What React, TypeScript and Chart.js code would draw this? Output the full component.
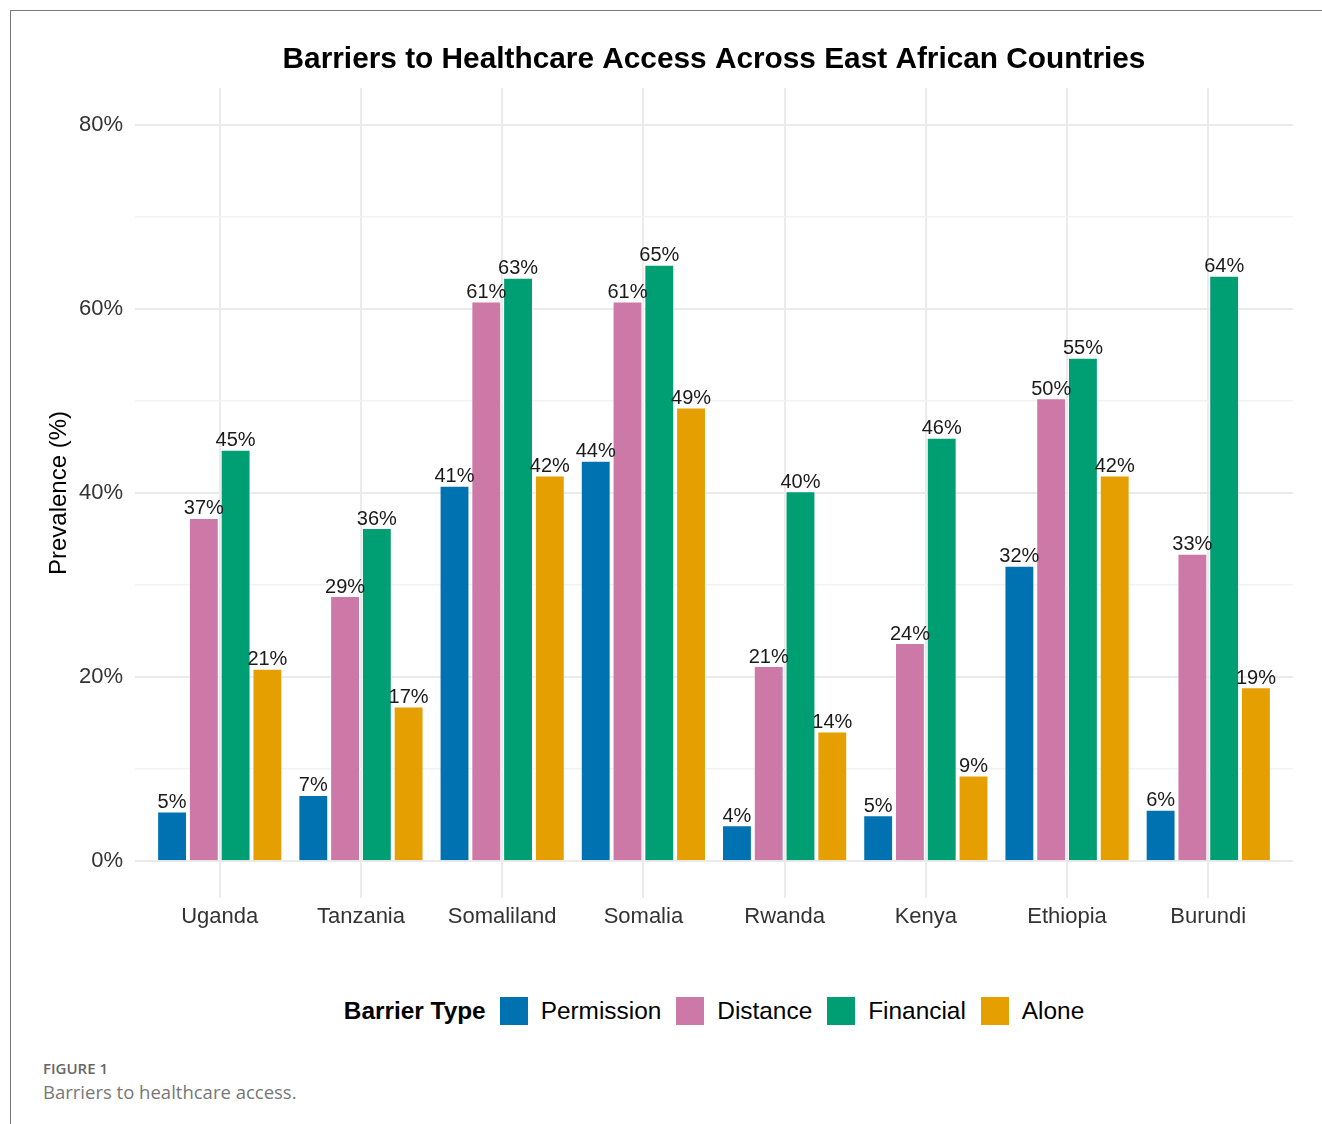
import React, { useEffect, useRef } from "react";
import { Chart, registerables } from "chart.js";

Chart.register(...registerables);

const countries = ["Uganda", "Tanzania", "Somaliland", "Somalia", "Rwanda", "Kenya", "Ethiopia", "Burundi"];
const permission = [5.4, 7.2, 40.8, 43.5, 3.9, 5.0, 32.1, 5.6];
const distance = [37.3, 28.8, 60.8, 60.8, 21.2, 23.7, 50.3, 33.4];
const financial = [44.7, 36.2, 63.4, 64.8, 40.2, 46.0, 54.7, 63.6];
const alone = [20.9, 16.8, 41.9, 49.3, 14.1, 9.3, 41.9, 18.9];
const seriesNames = ["Permission", "Distance", "Financial", "Alone"];
const seriesColors = ["#0072B2", "#CC79A7", "#009E73", "#E69F00"];
const yTickValues = [0, 10, 20, 30, 40, 50, 60, 70, 80];
const yMajorStep = 20;

const FONT = "'Liberation Sans', Arial, Helvetica, sans-serif";

const labelPlugin = {
  id: "barValueLabels",
  afterDatasetsDraw(chart: any) {
    const ctx = chart.ctx;
    ctx.save();
    ctx.font = `20px ${FONT}`;
    ctx.fillStyle = "#1a1a1a";
    ctx.textAlign = "center";
    ctx.textBaseline = "alphabetic";
    chart.data.datasets.forEach((ds: any, di: number) => {
      const meta = chart.getDatasetMeta(di);
      meta.data.forEach((el: any, i: number) => {
        const v = ds.data[i].y;
        ctx.fillText(Math.round(v) + "%", el.x, el.y - 3.5);
      });
    });
    ctx.restore();
  },
};

export default function App() {
  const canvasRef = useRef<HTMLCanvasElement | null>(null);

  useEffect(() => {
    if (!canvasRef.current) return;
    const seriesValues = [permission, distance, financial, alone];
    const chart = new Chart(canvasRef.current, {
      type: "bar",
      data: {
        datasets: seriesNames.map((name, s) => ({
          label: name,
          data: seriesValues[s].map((v, i) => ({ x: i, y: v })),
          backgroundColor: seriesColors[s],
          borderColor: "rgba(255,255,255,0.5)",
          borderWidth: 1,
          categoryPercentage: 0.9,
          barPercentage: 0.94,
        })),
      },
      options: {
        responsive: false,
        animation: false,
        layout: { padding: { left: 10, right: 29, top: 0, bottom: 22 } },
        plugins: {
          legend: { display: false },
          tooltip: { enabled: false },
          title: {
            display: true,
            text: "Barriers to Healthcare Access Across East African Countries",
            fullSize: false,
            color: "#000",
            font: { family: FONT, size: 29.8, weight: "bold" },
            padding: { top: 42.3, bottom: 10 },
          },
        },
        scales: {
          x: {
            type: "linear",
            offset: false,
            min: -0.6,
            max: countries.length - 0.4,
            afterBuildTicks: (scale: any) => {
              scale.ticks = countries.map((_, i) => ({ value: i }));
            },
            afterFit: (scale: any) => {
              scale.height = 40;
            },
            ticks: {
              autoSkip: false,
              maxRotation: 0,
              padding: 6,
              color: "#333",
              font: { family: FONT, size: 22 },
              callback: (v: any) => countries[v] ?? "",
            },
            grid: { color: "#ebebeb", lineWidth: 2, drawTicks: false, offset: false },
            border: { display: false },
          },
          y: {
            type: "linear",
            min: -4,
            max: 84,
            afterBuildTicks: (scale: any) => {
              scale.ticks = yTickValues.map((v) => ({ value: v }));
            },
            afterFit: (scale: any) => {
              scale.width = 125;
            },
            ticks: {
              padding: 12,
              color: "#333",
              font: { family: FONT, size: 22 },
              callback: (v: any) => (v % yMajorStep === 0 ? v + "%" : ""),
            },
            grid: {
              color: (c: any) => (c.tick && c.tick.value % yMajorStep === 0 ? "#ebebeb" : "#f2f2f2"),
              lineWidth: (c: any) => (c.tick && c.tick.value % yMajorStep === 0 ? 2 : 1.5),
              drawTicks: false,
            },
            border: { display: false },
            title: {
              display: true,
              text: "Prevalence (%)",
              color: "#000",
              font: { family: FONT, size: 24 },
              padding: { top: 35, bottom: 0 },
            },
          },
        },
      },
      plugins: [labelPlugin],
    } as any);
    return () => chart.destroy();
  }, []);

  return (
    <div
      style={{
        position: "absolute",
        left: 0,
        top: 0,
        width: 1322,
        height: 1124,
        background: "#fff",
        overflow: "hidden",
      }}
    >
      <div
        style={{
          position: "absolute",
          left: 10,
          top: 10,
          width: 1330,
          height: 1130,
          borderTop: "1px solid #777",
          borderLeft: "1px solid #777",
        }}
      />
      <canvas
        ref={canvasRef}
        width={1322}
        height={960}
        style={{ position: "absolute", left: 0, top: 0, width: 1322, height: 960 }}
      />
      <div
        style={{
          position: "absolute",
          left: 135,
          width: 1158,
          top: 997,
          height: 28,
          display: "flex",
          justifyContent: "center",
          alignItems: "center",
          fontFamily: FONT,
          fontSize: 24.4,
          color: "#000",
          whiteSpace: "nowrap",
        }}
      >
        <span style={{ fontWeight: "bold", marginRight: 14 }}>Barrier Type</span>
        {seriesNames.map((name, i) => (
          <React.Fragment key={name}>
            <span
              style={{
                display: "inline-block",
                width: 28,
                height: 28,
                background: seriesColors[i],
                marginRight: 13,
              }}
            />
            <span style={{ marginRight: i < seriesNames.length - 1 ? 15 : 0 }}>{name}</span>
          </React.Fragment>
        ))}
      </div>
      <div
        style={{
          position: "absolute",
          left: 43,
          top: 1058,
          fontFamily: "'Open Sans', sans-serif",
          fontSize: 15,
          fontWeight: 600,
          color: "#666",
          lineHeight: "20px",
        }}
      >
        FIGURE 1
      </div>
      <div
        style={{
          position: "absolute",
          left: 43,
          top: 1079,
          fontFamily: "'Open Sans', sans-serif",
          fontSize: 18.5,
          color: "#777",
          lineHeight: "26px",
        }}
      >
        Barriers to healthcare access.
      </div>
    </div>
  );
}
